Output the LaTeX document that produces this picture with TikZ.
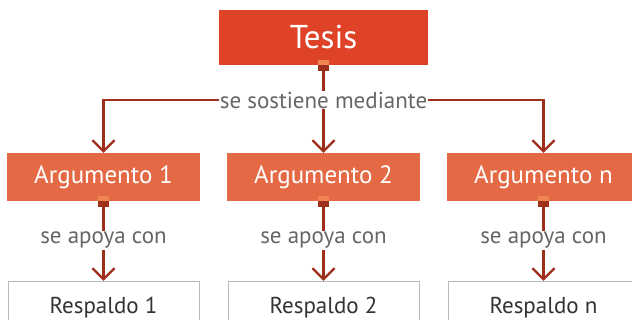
\documentclass[tikz,border=0pt]{standalone}
\usepackage{fontspec}
\setmainfont{PT Sans}
\usetikzlibrary{arrows.meta}
\definecolor{tesisred}{HTML}{DF4327}
\definecolor{argorange}{HTML}{E46A45}
\definecolor{tablight}{HTML}{F08452}
\definecolor{linkred}{HTML}{9E2F1A}
\definecolor{labelgray}{HTML}{666666}
\definecolor{boxgray}{HTML}{BBBBBB}
\begin{document}
\begin{tikzpicture}[x=1pt,y=-1pt,
  tesisbox/.style={fill=tesisred,text=white,minimum width=209pt,minimum height=55pt,inner sep=0pt,font=\fontsize{33}{38}\selectfont},
  argbox/.style={fill=argorange,text=white,minimum width=193pt,minimum height=48pt,inner sep=0pt,font=\fontsize{25}{29}\selectfont},
  resbox/.style={draw=boxgray,line width=1pt,fill=white,minimum width=191pt,minimum height=52pt,inner sep=0pt,font=\fontsize{23}{27}\selectfont,text=black!80},
  linklabel/.style={text=labelgray,inner sep=1pt,font=\fontsize{23}{26}\selectfont},
  tab/.style={minimum size=11pt,inner sep=0pt,path picture={
    \fill[tablight] (path picture bounding box.north west) rectangle (path picture bounding box.east);
    \fill[linkred] (path picture bounding box.west) rectangle (path picture bounding box.south east);}},
  link/.style={draw=linkred,line width=2.2pt},
  arrowlink/.style={link,-{Straight Barb[length=11pt,width=22pt,line width=2.2pt]}}]
\useasboundingbox (0,0) rectangle (632,320);
\clip (0,0) rectangle (632,320);
% tesis
\node[tesisbox] (tesis) at (323.5,37.5) {Tesis};
\node[tab] (tesistab) at (tesis.south) {};
\node[linklabel] (sostiene) at (323.5,100) {se sostiene mediante};
% argumentos
\node[argbox] (arg1) at (103.5,177) {Argumento 1};
\node[argbox] (arg2) at (323.5,177) {Argumento 2};
\node[argbox] (argn) at (543.5,177) {Argumento n};
\draw[link] (tesistab.south) -- (sostiene.north);
\draw[arrowlink] (sostiene.south) -- (arg2.north);
\draw[arrowlink] (sostiene.west) -| (arg1.north);
\draw[arrowlink] (sostiene.east) -| (argn.north);
% respaldos
\foreach \a/\r/\t in {arg1/res1/Respaldo 1,arg2/res2/Respaldo 2,argn/resn/Respaldo n}{
  \node[tab] (\a tab) at (\a.south) {};
  \node[linklabel,below=24pt] (\a apoya) at (\a tab.south) {se apoya con};
  \node[resbox,anchor=north] (\r) at ([yshift=-31pt]\a apoya.south) {\t};
  \draw[link] (\a tab.south) -- (\a apoya.north);
  \draw[arrowlink] (\a apoya.south) -- (\r.north);
}
\end{tikzpicture}
\end{document}
